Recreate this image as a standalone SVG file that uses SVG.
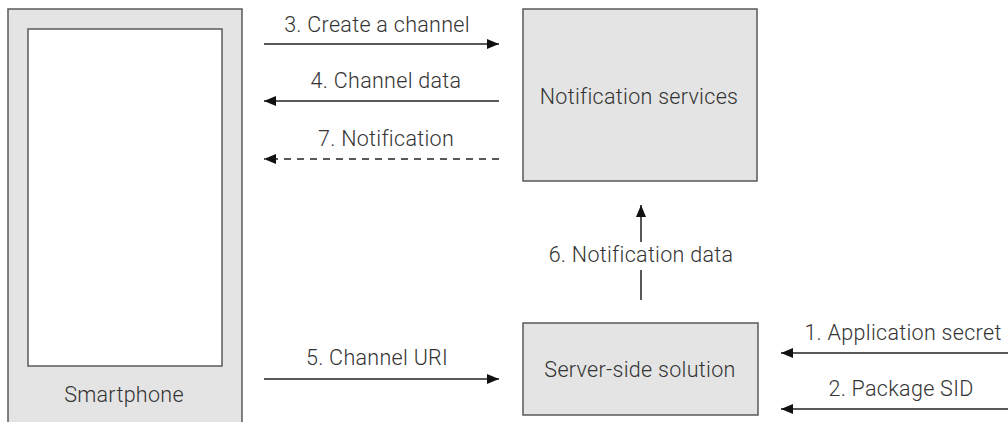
<svg xmlns="http://www.w3.org/2000/svg" width="1008" height="422" viewBox="0 0 1008 422">
<style>
.box{fill:#e4e4e4;stroke:#5a5a5a;stroke-width:1.5}
.screen{fill:#fff;stroke:#5a5a5a;stroke-width:1.5}
.t{font-family:Roboto,"Liberation Sans",sans-serif;font-weight:300;font-size:21.5px;letter-spacing:0.3px;fill:#333;text-anchor:middle}
.c{stroke:#222;stroke-width:1.5;fill:none}
.d{stroke-dasharray:7 6}
</style>
<defs>
<marker id="ah" viewBox="0 0 12 10" refX="12" refY="5" markerWidth="12" markerHeight="10" markerUnits="userSpaceOnUse" orient="auto">
<path d="M0,0 L12,5 L0,10 z" fill="#111"/>
</marker>
</defs>
<rect width="1008" height="422" fill="#fff"/>
<g id="smartphone">
<rect class="box" x="8" y="9" width="234" height="420"/>
<rect class="screen" x="28" y="29" width="194" height="337"/>
<text class="t" x="124" y="402">Smartphone</text>
</g>
<g id="notification-services">
<rect class="box" x="523" y="9" width="234" height="172"/>
<text class="t" x="639" y="104">Notification services</text>
</g>
<g id="server-side">
<rect class="box" x="523" y="323" width="235" height="92"/>
<text class="t" x="640" y="377">Server-side solution</text>
</g>
<g id="connectors">
<line class="c" x1="264" y1="44" x2="499" y2="44" marker-end="url(#ah)"/>
<text class="t" x="377" y="32">3. Create a channel</text>
<line class="c" x1="499" y1="101" x2="264" y2="101" marker-end="url(#ah)"/>
<text class="t" x="386" y="88">4. Channel data</text>
<line class="c d" x1="499" y1="159" x2="264" y2="159" marker-end="url(#ah)"/>
<text class="t" x="386" y="146">7. Notification</text>
<line class="c" x1="264" y1="379" x2="499" y2="379" marker-end="url(#ah)"/>
<text class="t" x="377" y="365">5. Channel URI</text>
<line class="c" x1="641" y1="242" x2="641" y2="205" marker-end="url(#ah)"/>
<line class="c" x1="641" y1="300" x2="641" y2="270"/>
<text class="t" x="641" y="262">6. Notification data</text>
<line class="c" x1="1008" y1="353" x2="781" y2="353" marker-end="url(#ah)"/>
<text class="t" x="903" y="340">1. Application secret</text>
<line class="c" x1="1008" y1="409" x2="781" y2="409" marker-end="url(#ah)"/>
<text class="t" x="901" y="396">2. Package SID</text>
</g>
</svg>
